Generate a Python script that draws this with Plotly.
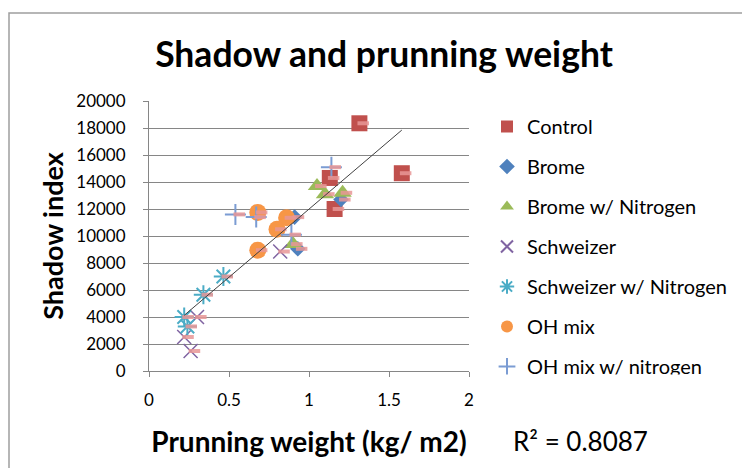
import plotly.graph_objects as go
import numpy as np

# ---- data ----
control_x = [1.315, 1.58, 1.13, 1.16]
control_y = [18350, 14650, 14300, 12000]
brome_x = [1.20, 0.93, 0.91]
brome_y = [12700, 9050, 11400]
bromeN_x = [1.05, 1.10, 1.21, 0.90]
bromeN_y = [13700, 13100, 13200, 9400]
schw_x = [0.82, 0.22, 0.30, 0.26]
schw_y = [8850, 2520, 4000, 1480]
schwN_x = [0.465, 0.34, 0.22, 0.24]
schwN_y = [7000, 5650, 4000, 3300]
oh_x = [0.68, 0.86, 0.80, 0.68]
oh_y = [11750, 11350, 10500, 8950]
ohN_x = [0.54, 0.67, 1.14, 0.89]
ohN_y = [11600, 11400, 15100, 10100]

series_names = ["Control", "Brome", "Brome w/ Nitrogen", "Schweizer",
                "Schweizer w/ Nitrogen", "OH mix", "OH mix w/ nitrogen"]
r2_text = "R² = 0.8087"

FONT = "Lato"
series = [
    (control_x, control_y, dict(symbol="square", size=16, color="#C0504D")),
    (brome_x, brome_y, dict(symbol="diamond", size=12, color="#4F81BD")),
    (bromeN_x, bromeN_y, dict(symbol="triangle-up", size=16, color="#9BBB59")),
    (schw_x, schw_y, dict(symbol="x-thin", size=14, color="#8064A2",
                          line=dict(color="#8064A2", width=1.5))),
    (schwN_x, schwN_y, dict(symbol="asterisk-open", size=16, color="#4BACC6",
                            line=dict(color="#4BACC6", width=2))),
    (oh_x, oh_y, dict(symbol="circle", size=17, color="#F79646")),
    (ohN_x, ohN_y, dict(symbol="cross-thin-open", size=15, color="#7B9CD3",
                        line=dict(color="#7B9CD3", width=2))),
]

fig = go.Figure()
for i, ((xs, ys, mk), name) in enumerate(zip(series, series_names)):
    fig.add_trace(go.Scatter(x=xs, y=ys, mode="markers", name=name,
                             marker=mk, legendgroup=name))

all_x = np.concatenate([s[0] for s in series])
all_y = np.concatenate([s[1] for s in series])

# pale label dashes drawn over each marker
fig.add_trace(go.Scatter(
    x=all_x, y=all_y, mode="markers", showlegend=False, hoverinfo="skip",
    marker=dict(size=1, opacity=0),
    error_x=dict(type="constant", symmetric=False, value=0.06, valueminus=0.012,
                 thickness=4, width=0, color="rgba(232,150,150,0.85)")))

# linear trendline
slope, intercept = np.polyfit(all_x, all_y, 1)
tx = np.array([all_x.min(), all_x.max()])
fig.add_trace(go.Scatter(x=tx, y=slope * tx + intercept, mode="lines",
                         showlegend=False, hoverinfo="skip",
                         line=dict(color="#404040", width=1)))

# page body has an 8px margin: figure coords = page coords - 8
OFF = 8
W, H = 750 - OFF, 468 - OFF
L, T, PW, PH = 149 - OFF, 101 - OFF, 320, 270

def px(xpage):
    return (xpage - OFF - L) / PW

def py(ypage):
    return (T + PH - (ypage - OFF)) / PH

fig.update_layout(
    width=W, height=H,
    margin=dict(l=L, r=W - L - PW, t=T, b=H - T - PH, autoexpand=False),
    paper_bgcolor="white", plot_bgcolor="white",
    font=dict(family=FONT, color="black"),
    title=dict(text="<b>Shadow and prunning weight</b>", x=(384 - OFF) / W, xanchor="center",
               y=1 - (55 - OFF) / H, yanchor="middle", automargin=False,
               font=dict(family=FONT, size=35.5, color="black")),
    xaxis=dict(range=[0, 2], dtick=0.5, showgrid=False, zeroline=False,
               automargin=False,
               showline=True, linecolor="#868686", linewidth=1,
               ticks="outside", ticklen=5, tickcolor="#868686",
               tickfont=dict(family=FONT, size=17, color="black"),
               ticklabelstandoff=9,
               title=dict(text="<b>Prunning weight (kg/ m2)</b>", standoff=22,
                          font=dict(family=FONT, size=28, color="black"))),
    yaxis=dict(range=[0, 20000], dtick=2000, tickformat="d", showgrid=True,
               automargin=False,
               gridcolor="#868686", gridwidth=1, zeroline=False,
               showline=True, linecolor="#868686", linewidth=1,
               ticks="outside", ticklen=5, tickcolor="#868686",
               tickfont=dict(family=FONT, size=17, color="black"),
               ticklabelstandoff=14,
               title=dict(text="<b>Shadow index</b>", standoff=4,
                          font=dict(family=FONT, size=27, color="black"))),
    legend=dict(x=px(487), xanchor="left", y=py(107), yanchor="top",
                font=dict(family=FONT, size=20, color="black"),
                tracegroupgap=11, itemsizing="constant", maxheight=420,
                bgcolor="rgba(0,0,0,0)"),
    shapes=[dict(type="rect", xref="paper", yref="paper",
                 x0=px(9), x1=px(800), y0=py(520), y1=py(13),
                 line=dict(color="#9E9E9E", width=1.5), fillcolor="rgba(0,0,0,0)",
                 layer="below")],
    annotations=[
        dict(text=r2_text, xref="paper", yref="paper",
             x=px(580), y=py(441), xanchor="center", yanchor="middle",
             showarrow=False, font=dict(family=FONT, size=26, color="black")),
        # white mask that crops the bottom of the legend like the reference
        dict(text=" ", xref="paper", yref="paper", x=px(488), y=py(374),
             xanchor="left", yanchor="top", showarrow=False,
             width=255, height=30, bgcolor="white", borderpad=0,
             font=dict(size=10)),
    ],
)

fig.write_html("out.html")
